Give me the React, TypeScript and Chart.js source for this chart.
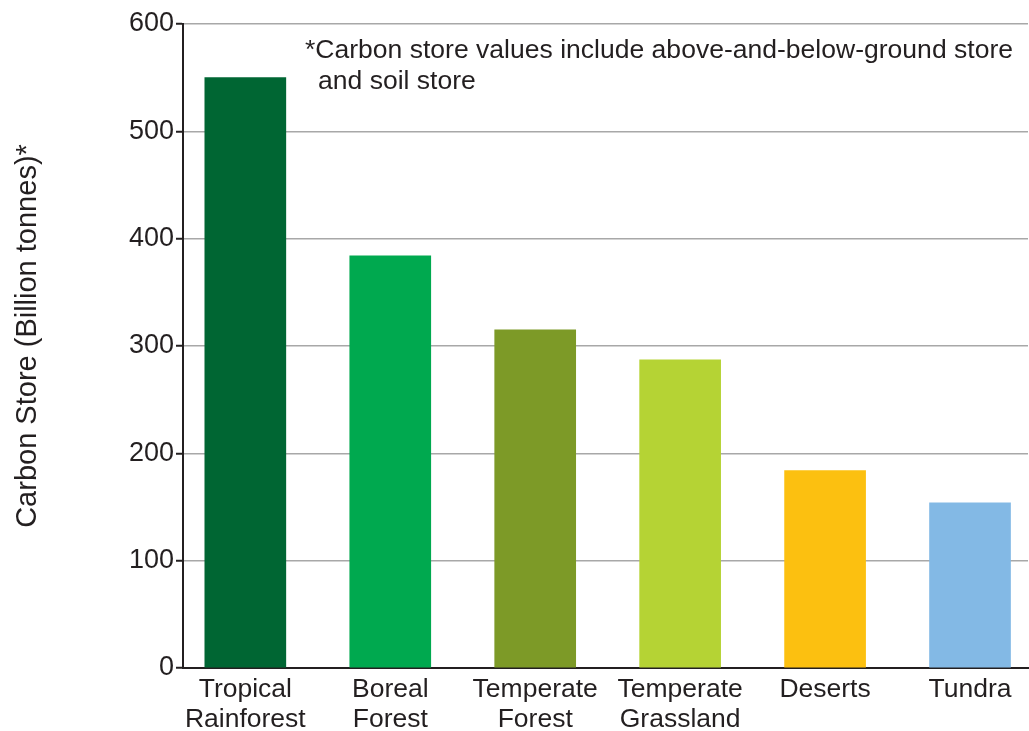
import React, { useEffect, useRef } from "react";
import { Chart, registerables } from "chart.js";

Chart.register(...registerables);

const categories: string[][] = [
  ["Tropical", "Rainforest"],
  ["Boreal", "Forest"],
  ["Temperate", "Forest"],
  ["Temperate", "Grassland"],
  ["Deserts"],
  ["Tundra"],
];
const carbonStore: number[] = [550, 384, 315, 287, 184, 154];
const barColors: string[] = ["#006633", "#00a94f", "#7d9a27", "#b5d334", "#fcc010", "#83b9e5"];
const yTicks: number[] = [0, 100, 200, 300, 400, 500, 600];
const yTitle = "Carbon Store (Billion tonnes)*";
const noteLines: string[] = [
  "*Carbon store values include above-and-below-ground store",
  "and soil store",
];

const FONT = "'Liberation Sans', Arial, sans-serif";
const INK = "#231f20";

const textPlugin = {
  id: "textPlugin",
  afterDraw(chart: any) {
    const ctx = chart.ctx;
    ctx.save();
    ctx.fillStyle = INK;
    ctx.font = `26.5px ${FONT}`;
    ctx.textBaseline = "middle";
    ctx.textAlign = "left";
    const w = ctx.measureText(noteLines[0]).width;
    const sx = 708 / w;
    ctx.translate(305, 0);
    ctx.scale(sx, 1);
    ctx.fillText(noteLines[0], 0, 51);
    ctx.fillText(noteLines[1], 13 / sx, 82);
    ctx.restore();

    ctx.save();
    ctx.fillStyle = INK;
    ctx.font = `29px ${FONT}`;
    ctx.textBaseline = "middle";
    ctx.textAlign = "center";
    ctx.translate(28, 336);
    ctx.rotate(-Math.PI / 2);
    ctx.fillText(yTitle, 0, 0);
    ctx.restore();
  },
};

export default function App() {
  const ref = useRef<HTMLCanvasElement | null>(null);
  useEffect(() => {
    if (!ref.current) return;
    const chart = new Chart(ref.current, {
      type: "bar",
      data: {
        datasets: [
          {
            data: carbonStore.map((v, i) => ({ x: i, y: v })),
            backgroundColor: barColors,
            barThickness: 81,
          },
        ],
      },
      options: {
        animation: false,
        responsive: true,
        maintainAspectRatio: false,
        layout: { padding: { top: 24, right: 1, left: 0, bottom: 0 } },
        plugins: { legend: { display: false }, tooltip: { enabled: false } },
        scales: {
          x: {
            type: "linear",
            offset: false,
            min: -0.43,
            max: 5.4,
            afterBuildTicks: (scale: any) => {
              scale.ticks = categories.map((_, i) => ({ value: i }));
            },
            afterFit: (scale: any) => {
              scale.height = 63;
            },
            ticks: {
              callback: (v: any) => categories[v as number] ?? "",
              color: INK,
              font: { family: FONT, size: 26.5, lineHeight: 1.12 },
              padding: 7,
              maxRotation: 0,
              autoSkip: false,
            },
            grid: { display: false, drawTicks: false, offset: false },
            border: { display: true, color: INK, width: 2 },
          },
          y: {
            min: 0,
            max: 600,
            afterBuildTicks: (scale: any) => {
              scale.ticks = yTicks.map((v) => ({ value: v }));
            },
            afterFit: (scale: any) => {
              scale.width = 183;
            },
            ticks: {
              color: INK,
              font: { family: FONT, size: 27 },
              padding: 2,
            },
            grid: {
              color: (c: any) => (c.tick && c.tick.value === 0 ? "rgba(0,0,0,0)" : "#a8a8a8"),
              lineWidth: 1.5,
              tickLength: 7,
              tickColor: INK,
              tickWidth: 2,
            },
            border: { display: true, color: INK, width: 2 },
            title: { display: false },
          },
        },
      },
      plugins: [textPlugin],
    } as any);
    return () => chart.destroy();
  }, []);
  return (
    <div style={{ position: "fixed", left: 0, top: 0, width: 1029, height: 731, background: "#fff" }}>
      <canvas ref={ref} />
    </div>
  );
}
